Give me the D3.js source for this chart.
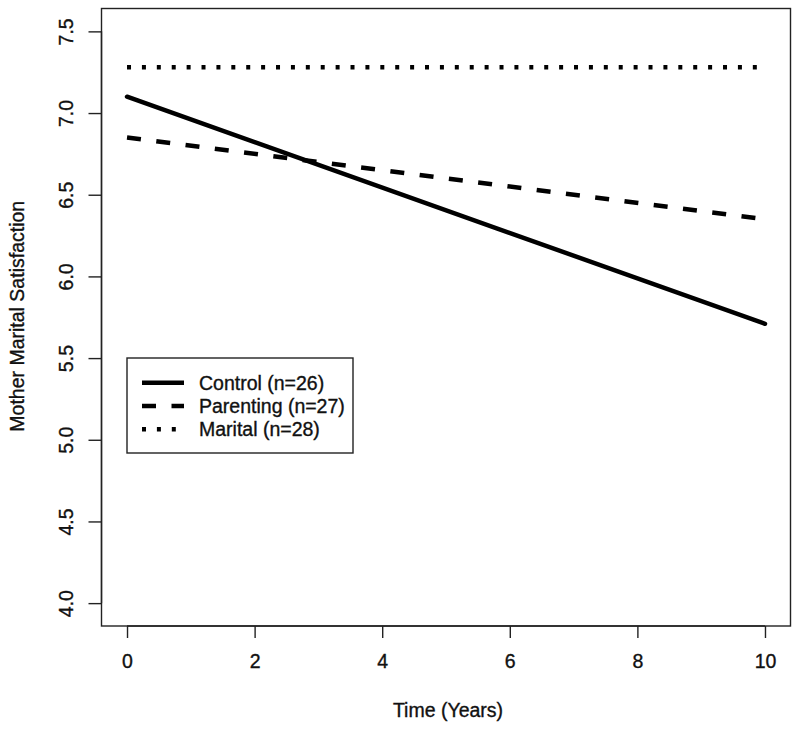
<!DOCTYPE html>
<html><head><meta charset="utf-8">
<script src="https://cdn.jsdelivr.net/npm/d3@7"></script>
<style>body{margin:0;background:#fff}text{font-family:"Liberation Sans",Arial,Helvetica,sans-serif;fill:#111;stroke:#111;stroke-width:0.35px}</style>
</head><body>
<svg id="c" width="800" height="729"></svg>
<script>
const groups = ["Control (n=26)", "Parenting (n=27)", "Marital (n=28)"];
const times = [0, 10];
const controlVals = [7.10, 5.71];
const parentingVals = [6.85, 6.35];
const maritalVals = [7.28, 7.28];
const seriesVals = [controlVals, parentingVals, maritalVals];
const xTicks = [0, 2, 4, 6, 8, 10];
const yTicks = [4.0, 4.5, 5.0, 5.5, 6.0, 6.5, 7.0, 7.5];
const dashes = [null, "14,15.5", "4,10.9"];

const svg = d3.select("#c");
const x = d3.scaleLinear().domain([-0.4, 10.4]).range([101.5, 790.5]);
const y = d3.scaleLinear().domain([3.86, 7.64]).range([626, 8.5]);
const fs = 19.5;

// box
svg.append("rect").attr("x", x(-0.4)).attr("y", y(7.64))
  .attr("width", x(10.4) - x(-0.4)).attr("height", y(3.86) - y(7.64))
  .attr("fill", "none").attr("stroke", "#222").attr("stroke-width", 1.4);

// x axis
const xa = svg.append("g").attr("transform", `translate(0,${y(3.86)})`)
  .call(d3.axisBottom(x).tickValues(xTicks).tickSize(12).tickPadding(16).tickFormat(d3.format("d")));
xa.select(".domain").attr("d", `M${x(0)},0H${x(10)}`).attr("stroke", "#222").attr("stroke-width", 1.4);
xa.selectAll(".tick line").attr("stroke", "#222").attr("stroke-width", 1.4);
xa.selectAll("text").attr("font-size", fs).style("font-family", '"Liberation Sans",Arial,sans-serif').attr("fill", "#111");

// y axis
const ya = svg.append("g").attr("transform", `translate(${x(-0.4)},0)`)
  .call(d3.axisLeft(y).tickValues(yTicks).tickSize(13).tickFormat(d3.format(".1f")));
ya.select(".domain").attr("d", `M0,${y(4)}V${y(7.5)}`).attr("stroke", "#222").attr("stroke-width", 1.4);
ya.selectAll(".tick line").attr("stroke", "#222").attr("stroke-width", 1.4);
ya.selectAll(".tick text").attr("x", null).attr("dy", null)
  .attr("transform", "translate(-36,0) rotate(-90)")
  .attr("text-anchor", "middle").attr("dominant-baseline", "central")
  .attr("font-size", fs).style("font-family", '"Liberation Sans",Arial,sans-serif').attr("fill", "#111");

// titles
svg.append("text").attr("x", (x(-0.4) + x(10.4)) / 2 + 2).attr("y", 717)
  .attr("text-anchor", "middle").attr("font-size", fs).text("Time (Years)");
svg.append("text").attr("transform", `translate(24,${(y(3.86) + y(7.64)) / 2 - 1}) rotate(-90)`)
  .attr("text-anchor", "middle").attr("font-size", fs).text("Mother Marital Satisfaction");

// lines
const line = d3.line().x(d => x(d[0])).y(d => y(d[1]));
seriesVals.forEach((vals, i) => {
  svg.append("path").datum(times.map((t, j) => [t, vals[j]]))
    .attr("d", line).attr("fill", "none").attr("stroke", "#000")
    .attr("stroke-width", 4.5).attr("stroke-linecap", i === 0 ? "round" : "butt")
    .attr("stroke-dasharray", dashes[i]);
});

// legend
const lg = svg.append("g");
lg.append("rect").attr("x", 127).attr("y", 358).attr("width", 226).attr("height", 95)
  .attr("fill", "#fff").attr("stroke", "#222").attr("stroke-width", 1.4);
groups.forEach((g, i) => {
  const yy = 382.7 + i * 23.3;
  lg.append("line").attr("x1", 142).attr("x2", 184).attr("y1", yy).attr("y2", yy)
    .attr("stroke", "#000").attr("stroke-width", 4.5)
    .attr("stroke-dasharray", dashes[i]);
  lg.append("text").attr("x", 199).attr("y", yy).attr("dominant-baseline", "central")
    .attr("font-size", fs).text(g);
});
</script>
</body></html>
